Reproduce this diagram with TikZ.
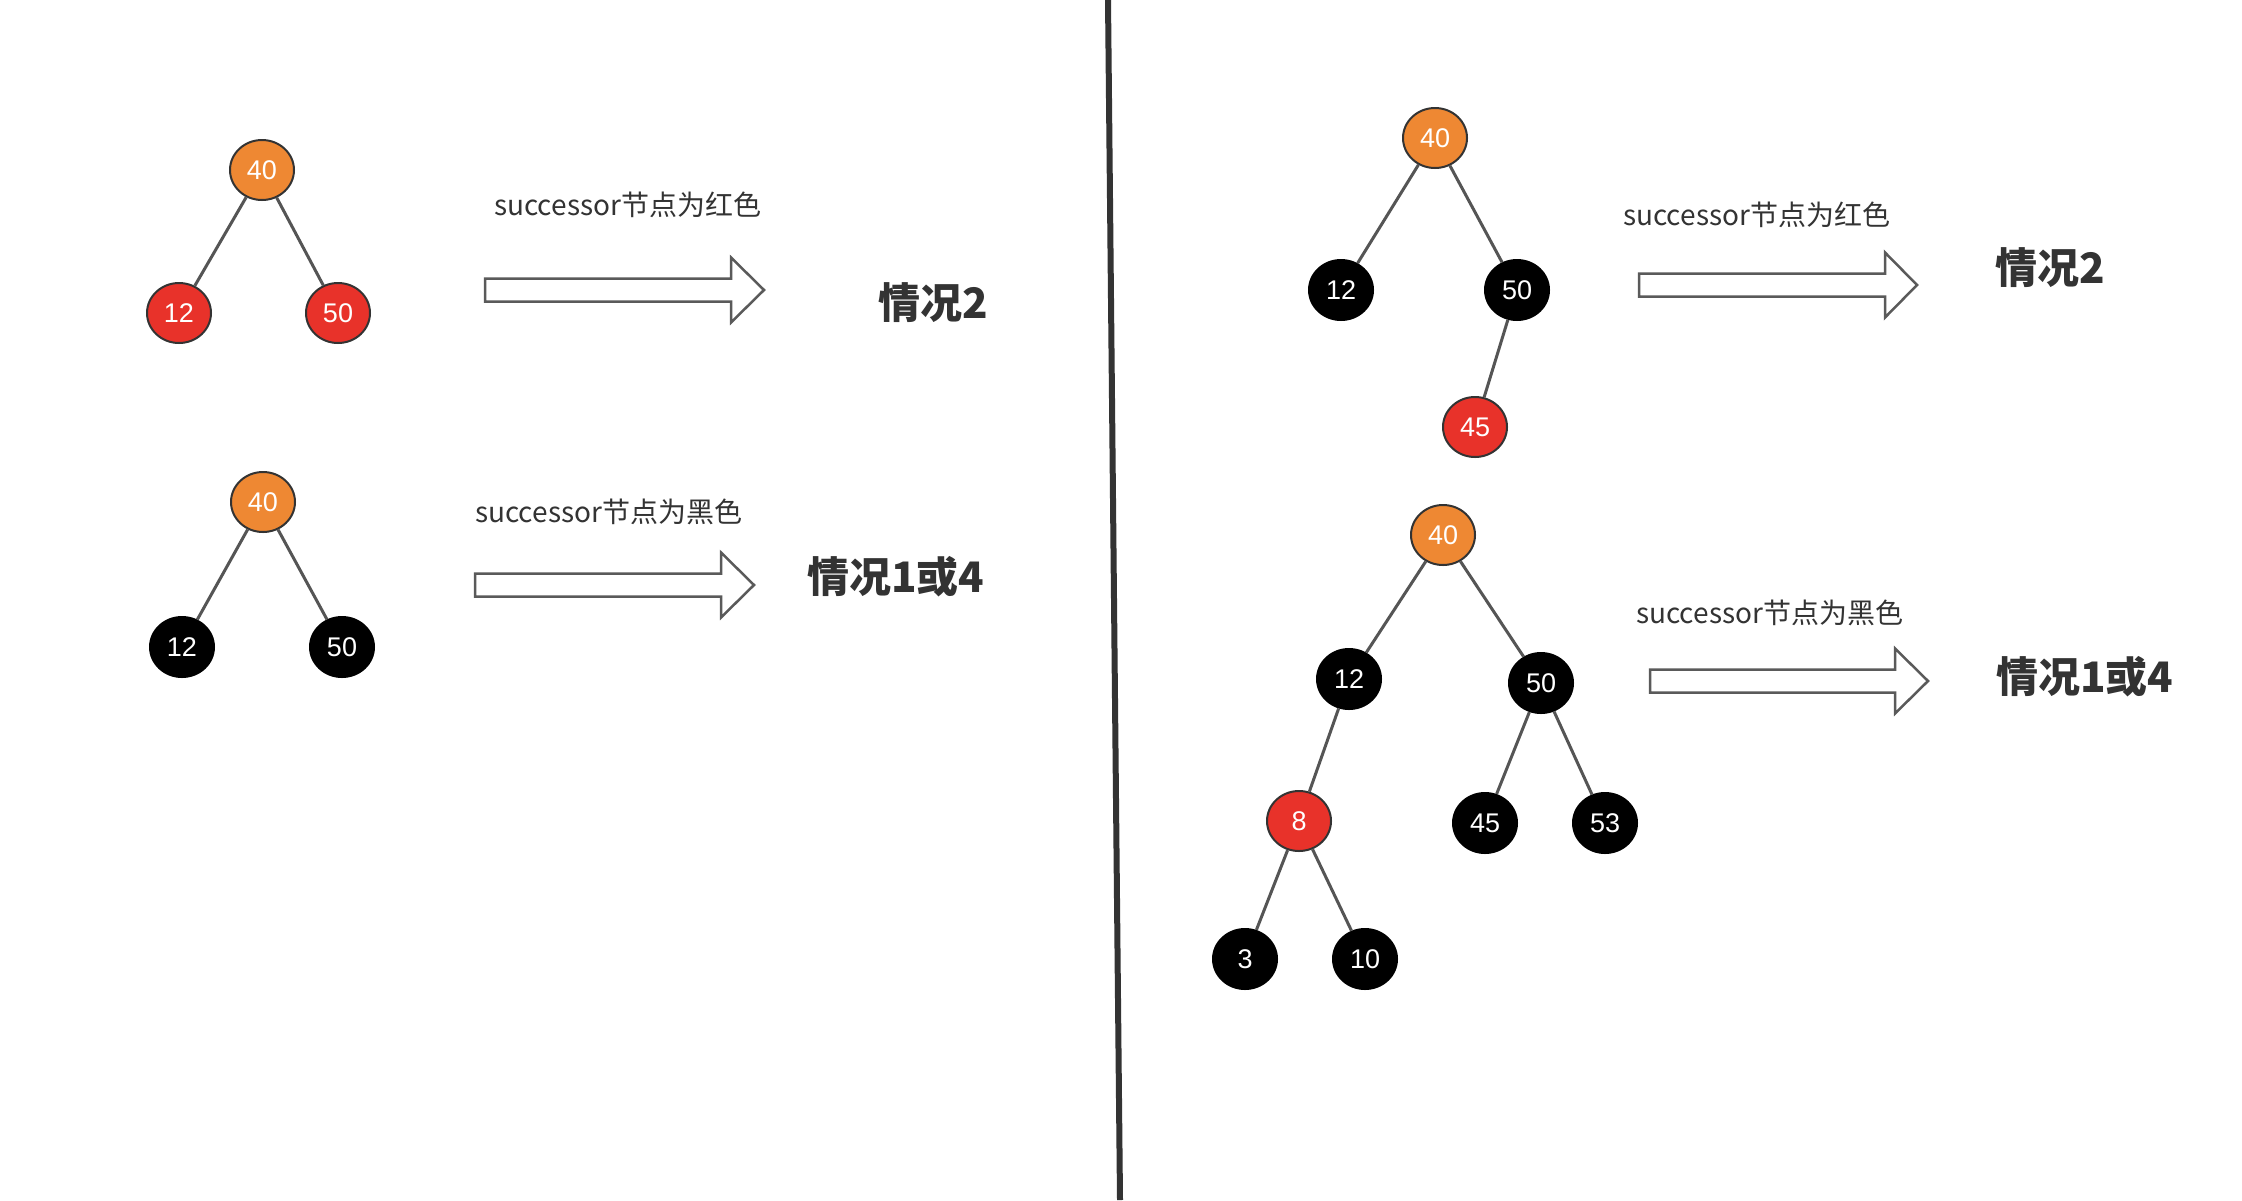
\documentclass[tikz,border=0pt]{standalone}
\usepackage{fontspec}
\setmainfont{Liberation Sans}
\newfontfamily\cjk{Noto Sans CJK SC}
\usetikzlibrary{shapes.geometric}
\definecolor{nodeorange}{HTML}{EE8833}
\definecolor{nodered}{HTML}{E8322A}
\definecolor{edgegray}{HTML}{555555}
\definecolor{textgray}{HTML}{333333}
\definecolor{arrowgray}{HTML}{5A5A5A}
\newcommand\fatarrow[4]{%
  \draw[fatarrowstyle] (#1,#2-11.5) -- (#3,#2-11.5) -- (#3,#2-32.5) -- (#4,#2)
    -- (#3,#2+32.5) -- (#3,#2+11.5) -- (#1,#2+11.5) -- cycle;}
\tikzset{
  rbnode/.style={ellipse, minimum width=64pt, minimum height=60pt, inner sep=0pt,
    draw=black!80, line width=2pt, text=white,
    font=\fontsize{27}{32}\selectfont},
  orangenode/.style={rbnode, fill=nodeorange},
  rednode/.style={rbnode, fill=nodered},
  blacknode/.style={rbnode, fill=black, draw=black},
  edge/.style={draw=edgegray, line width=3pt},
  cond/.style={anchor=west, inner sep=0pt, text=textgray,
    font=\cjk\fontsize{28}{32}\selectfont},
  result/.style={anchor=west, inner sep=0pt, text=textgray,
    font=\cjk\bfseries\fontsize{42}{48}\selectfont},
  fatarrowstyle/.style={draw=arrowgray, line width=2.5pt, fill=white, line join=miter},
}
\begin{document}
\begin{tikzpicture}[x=1pt,y=-1pt]
\useasboundingbox (0,0) rectangle (2242,1200);
\fill[white] (0,0) rectangle (2242,1200);

% divider
\coordinate (dtop) at (1108,0);
\coordinate (dbot) at (1120,1200);
\draw[textgray, line width=6pt] (dtop) -- (dbot);

% left top tree
\node[orangenode] (a40) at (262,170) {40};
\node[rednode] (a12) at (179,313) {12};
\node[rednode] (a50) at (338,313) {50};
\draw[edge] (a40) -- (a12);
\draw[edge] (a40) -- (a50);

% left bottom tree
\node[orangenode] (b40) at (263,502) {40};
\node[blacknode] (b12) at (182,647) {12};
\node[blacknode] (b50) at (342,647) {50};
\draw[edge] (b40) -- (b12);
\draw[edge] (b40) -- (b50);

% right top tree
\node[orangenode] (c40) at (1435,138) {40};
\node[blacknode] (c12) at (1341,290) {12};
\node[blacknode] (c50) at (1517,290) {50};
\node[rednode] (c45) at (1475,427) {45};
\draw[edge] (c40) -- (c12);
\draw[edge] (c40) -- (c50);
\draw[edge] (c50) -- (c45);

% right bottom tree
\node[orangenode] (d40) at (1443,535) {40};
\node[blacknode] (d12) at (1349,679) {12};
\node[blacknode] (d50) at (1541,683) {50};
\node[rednode] (d8) at (1299,821) {8};
\node[blacknode] (d45) at (1485,823) {45};
\node[blacknode] (d53) at (1605,823) {53};
\node[blacknode] (d3) at (1245,959) {3};
\node[blacknode] (d10) at (1365,959) {10};
\draw[edge] (d40) -- (d12);
\draw[edge] (d40) -- (d50);
\draw[edge] (d12) -- (d8);
\draw[edge] (d50) -- (d45);
\draw[edge] (d50) -- (d53);
\draw[edge] (d8) -- (d3);
\draw[edge] (d8) -- (d10);

% arrows
\fatarrow{485}{290}{731}{764}
\fatarrow{475}{585}{721}{754}
\fatarrow{1639}{285}{1885}{1917}
\fatarrow{1650}{681}{1895}{1928}

% labels
\node[cond] (l1) at (494,205) {successor节点为红色};
\node[result] (r1) at (878,303) {情况2};
\node[cond] (l2) at (475,512) {successor节点为黑色};
\node[result] (r2) at (807,577) {情况1或4};
\node[cond] (l3) at (1623,215) {successor节点为红色};
\node[result] (r3) at (1995,268) {情况2};
\node[cond] (l4) at (1636,613) {successor节点为黑色};
\node[result] (r4) at (1996,677) {情况1或4};
\end{tikzpicture}
\end{document}
